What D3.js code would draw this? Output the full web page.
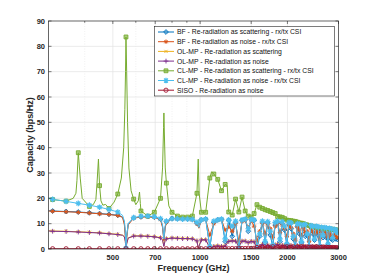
<!DOCTYPE html>
<html><head><meta charset="utf-8">
<script src="https://cdn.jsdelivr.net/npm/d3@7"></script>
<style>body{margin:0;background:#fff}svg{display:block}</style>
</head><body><svg id="c" width="374" height="280"></svg>
<script>
// ---------- DATA ----------
const freq = [310,345,380,415,450,485,520,555,590,625,660,695,730,765,800,835,870,905,940,975,1010,1045,1080,1115,1150,1185,1220,1255,1290,1325,1360,1395,1430,1465,1500,1535,1570,1605,1640,1675,1710,1745,1780,1815,1850,1885,1920,1955,1990,2025,2060,2095,2130,2165,2200,2235,2270,2305,2340,2375,2410,2445,2480,2515,2550,2585,2620,2655,2690,2725,2760,2795,2830,2865,2900,2935,2970];

const bfScat = [15.0,14.8,14.6,14.3,14.0,13.7,13.3,0.3,12.3,12.7,
 12.8,12.6,11.8,10.8,12.1,12.0,11.9,11.8,11.7,10.2,
 11.6,11.8,0.8,10.5,11.6,11.7,3.0,11.3,5.0,10.5,
 0.4,11.3,11.6,7.0,11.5,11.2,0.3,5.0,10.5,2.5,
 10.2,5.5,1.0,9.5,10.5,3.0,10.0,7.5,1.5,9.8,
 8.0,4.0,0.4,9.0,6.0,2.5,8.8,5.0,5.5,0.4,
 8.5,6.0,3.5,8.0,5.5,0.8,7.5,4.5,7.0,4.5,
 1.5,6.5,4.0,3.5,5.5,4.0,3.8];
const bfScatExF = [300,540,548,552,558,565,742,750,757,990,3000];
const bfScatExV = [15.1,12.6,10.5,6,5,10,9,3.5,8.5,8.5,3.6];

const bfNoise = [14.9,14.7,14.5,14.2,13.9,13.6,13.2,0.2,12.2,12.6,
 12.7,12.5,11.6,10.5,12.0,11.9,11.8,11.7,11.6,10.0,
 11.5,11.6,5.5,10.0,11.4,11.5,7.5,8.7,7.0,10.0,
 3.0,11.0,11.3,8.5,11.2,9.0,3.0,7.0,10.0,6.0,
 9.5,8.0,4.5,9.0,10.0,6.5,9.5,8.0,5.0,9.2,
 8.5,6.0,3.5,8.5,7.5,5.5,8.0,6.5,7.0,3.0,
 8.0,7.0,6.0,7.5,6.5,4.0,7.0,6.0,6.5,5.5,
 4.5,6.0,5.0,5.0,5.5,5.0,4.5];
const bfNoiseExF = [300,540,548,552,558,565,742,750,757,990,3000];
const bfNoiseExV = [15.0,12.5,9.5,5,4,9.5,8.5,3.2,8,8.2,4.0];

const olScat = [7.1,7.0,6.8,6.6,6.4,6.1,5.8,0.2,5.2,5.2,
 5.1,4.9,4.5,4.1,4.4,4.3,4.2,4.2,4.1,3.3,
 3.7,3.7,0.6,1.1,1.3,1.1,1.3,3.1,3.3,3.2,
 1.1,3.2,3.2,2.6,3.1,2.9,0.4,1.1,1.9,0.6,
 1.6,1.1,0.4,1.7,1.9,0.6,1.6,1.3,0.4,1.6,
 1.4,0.7,0.3,1.4,1.1,0.5,1.3,1.1,0.9,0.3,
 1.2,1.0,0.6,1.1,1.0,0.3,1.0,0.7,0.9,0.8,
 0.4,0.8,0.7,0.6,0.7,0.6,0.6];
const olScatExF = [300,540,548,552,558,565,742,750,757,985,3000];
const olScatExV = [7.2,5.5,4.9,3.1,2.1,4.4,3.6,1.1,3.4,0.4,0.6];

const olNoise = [7.0,6.9,6.7,6.5,6.3,6.0,5.7,0.1,5.1,5.1,
 5.0,4.8,4.4,4.0,4.3,4.2,4.1,4.1,4.0,3.2,
 3.6,3.6,0.5,1.0,1.2,1.0,1.2,3.0,3.2,3.1,
 1.0,3.1,3.1,2.5,3.0,2.8,0.3,1.0,1.8,0.5,
 1.5,1.0,0.3,1.6,1.8,0.5,1.5,1.2,0.3,1.5,
 1.3,0.6,0.2,1.3,1.0,0.4,1.2,1.0,0.8,0.2,
 1.1,0.9,0.5,1.0,0.9,0.2,0.9,0.6,0.8,0.7,
 0.3,0.7,0.6,0.5,0.6,0.5,0.5];
const olNoiseExF = [300,540,548,552,558,565,742,750,757,985,3000];
const olNoiseExV = [7.1,5.4,4.8,3,2,4.3,3.5,1.0,3.3,0.3,0.5];

const clScat = [19.5,18.9,38.0,16.8,25.0,16.0,21.7,83.7,19.7,15.0,
 13.0,14.5,20.0,26.0,14.5,13.0,12.6,12.6,13.0,22.0,
 14.5,14.5,28.0,29.6,27.5,23.0,25.5,14.6,13.4,19.7,
 14.6,20.5,15.0,13.0,12.6,14.0,17.5,16.5,16.0,15.5,
 15.2,14.8,14.4,14.0,12.8,12.7,12.5,12.0,11.4,11.3,
 11.2,11.0,10.9,10.6,10.3,10.2,10.0,9.7,9.5,9.3,
 9.0,8.9,8.8,8.7,8.5,8.4,8.3,8.2,8.1,8.0,
 8.0,7.9,7.8,7.8,7.7,7.6,7.2];
const clScatExF = [300,365,373,376,386,392,428,437,441,446,455,462,472,505,535,545,550,553,558,562,568,578,600,612,618,622,742,748,750,753,758,780,985,992,1095,1240,3000];
const clScatExV = [20.0,20.0,22,27,28,20,17.5,19.5,26,35.5,19,17.3,17.6,18.5,28,40,55,70,70,50,32,23,17.5,19,22.5,18,32,48,53.7,45,32,17,35.5,22,30.5,25,5.5];

const clNoise = [19.6,18.8,18.0,17.3,16.5,15.6,14.6,0.3,12.4,12.9,
 13.0,12.8,12.0,11.0,12.0,11.9,11.8,11.8,11.7,10.5,
 11.5,11.8,1.0,11.0,11.5,11.8,4.0,11.5,9.0,11.0,
 0.5,11.5,11.8,8.0,11.7,11.5,0.5,6.0,11.0,3.0,
 10.8,7.0,1.5,10.5,11.0,4.0,10.8,9.0,2.0,10.5,
 10.3,5.0,0.5,10.0,9.8,3.0,9.6,9.7,6.0,0.5,
 9.3,9.0,4.0,9.0,8.8,1.0,8.6,5.5,8.5,8.3,
 2.0,8.2,8.0,4.5,7.8,7.6,6.5];
const clNoiseExF = [300,540,548,552,558,565,742,750,757,990,3000];
const clNoiseExV = [20.2,13.3,11,7,5,10,9.5,4.0,9,8.5,6.0];

const siso = [0.1,0.1,0.1,0.1,0.1,0.1,0.1,0.1,0.1,0.1,
 0.1,0.1,0.1,0.1,0.1,0.1,0.1,0.1,0.1,0.1,
 0.1,0.1,0.2,0.1,0.1,0.1,0.2,0.1,0.2,0.1,
 0.3,0.2,0.2,0.3,0.2,0.3,0.6,0.3,0.7,0.4,
 0.8,0.4,0.9,0.3,0.6,0.8,0.4,0.7,0.9,0.5,
 0.6,0.9,0.4,0.8,0.5,0.9,0.6,0.4,0.8,0.7,
 0.5,0.8,0.6,0.9,0.4,0.7,0.6,0.8,0.5,0.7,
 0.6,0.6,0.5,0.6,0.5,0.5,0.5];
const sisoExF = [300,3000];
const sisoExV = [0.1,0.5];

const seriesNames = [
 "BF - Re-radiation as scattering - rx/tx CSI",
 "BF - Re-radiation as noise - rx/tx CSI",
 "OL-MP - Re-radiation as scattering",
 "OL-MP - Re-radiation as noise",
 "CL-MP - Re-radiation as scattering - rx/tx CSI",
 "CL-MP - Re-radiation as noise - rx/tx CSI",
 "SISO - Re-radiation as noise"];
const xTicks = [500,700,1000,1500,2000,3000];
const xMinor = [400,600,800,900];
const yTicks = [0,10,20,30,40,50,60,70,80,90];

// ---------- STYLE ----------
const colors = ["#0072BD","#D95319","#EDB120","#7E2F8E","#77AC30","#4DBEEE","#A2142F"];
const markers = ["d","*","x","+","s","star","o"];
const seriesVals = [bfScat,bfNoise,olScat,olNoise,clScat,clNoise,siso];
const seriesExF = [bfScatExF,bfNoiseExF,olScatExF,olNoiseExF,clScatExF,clNoiseExF,sisoExF];
const seriesExV = [bfScatExV,bfNoiseExV,olScatExV,olNoiseExV,clScatExV,clNoiseExV,sisoExV];

const L=48.5, R=338.5, T=21, B=249;
const FONT = "'Liberation Sans', Arial, Helvetica, sans-serif";
const svg = d3.select("#c");
const x = d3.scaleLog().domain([300,3000]).range([L,R]);
const y = d3.scaleLinear().domain([0,90]).range([B,T]);

svg.append("defs").append("clipPath").attr("id","clip")
  .append("rect").attr("x",L).attr("y",T).attr("width",R-L).attr("height",B-T);

const gGrid = svg.append("g");
gGrid.selectAll(".hg").data(yTicks.slice(1,-1)).join("line")
  .attr("x1",L).attr("x2",R).attr("y1",d=>y(d)).attr("y2",d=>y(d))
  .attr("stroke","#e3e3e3").attr("stroke-width",0.7);
gGrid.selectAll(".vg").data(xTicks.slice(0,-1)).join("line")
  .attr("y1",T).attr("y2",B).attr("x1",d=>x(d)).attr("x2",d=>x(d))
  .attr("stroke","#e3e3e3").attr("stroke-width",0.7);
gGrid.selectAll(".vm").data(xMinor).join("line")
  .attr("y1",T).attr("y2",B).attr("x1",d=>x(d)).attr("x2",d=>x(d))
  .attr("stroke","#e6e6e6").attr("stroke-width",0.6).attr("stroke-dasharray","1,1.5");

function markerPath(t, r){
  switch(t){
    case "d": return `M0,${-r}L${r},0L0,${r}L${-r},0Z`;
    case "s": return `M${-r*0.8},${-r*0.8}h${1.6*r}v${1.6*r}h${-1.6*r}Z`;
    case "o": return d3.path? `M${r},0A${r},${r} 0 1,1 ${-r},0A${r},${r} 0 1,1 ${r},0Z` : "";
    case "x": return `M${-r*0.7},${-r*0.7}L${r*0.7},${r*0.7}M${-r*0.7},${r*0.7}L${r*0.7},${-r*0.7}`;
    case "+": return `M${-r},0L${r},0M0,${-r}L0,${r}`;
    case "*": case "star": {
      const a=r*0.7;
      return `M${-r},0L${r},0M0,${-r}L0,${r}M${-a},${-a}L${a},${a}M${-a},${a}L${a},${-a}`;
    }
  }
}
const mSize = {d:2.4,"*":2.2,x:2.2,"+":2.4,s:2.4,star:2.8,o:2.1};
const mWidth = {d:0.9,"*":1.0,x:0.9,"+":0.9,s:0.9,star:1.2,o:0.9};

const gPlot = svg.append("g").attr("clip-path","url(#clip)");
const line = d3.line().x(d=>x(d[0])).y(d=>y(d[1]));
seriesVals.forEach((vals,i)=>{
  const pts = freq.map((f,k)=>[f,vals[k]])
    .concat(seriesExF[i].map((f,k)=>[f,seriesExV[i][k]]))
    .sort((a,b)=>a[0]-b[0]);
  gPlot.append("path").attr("d",line(pts)).attr("fill","none")
    .attr("stroke",colors[i]).attr("stroke-width",1.0).attr("stroke-linejoin","round");
  const t = markers[i];
  gPlot.append("g").selectAll("path").data(freq.map((f,k)=>[f,vals[k]])).join("path")
    .attr("transform",d=>`translate(${x(d[0])},${y(d[1])})`)
    .attr("d",markerPath(t,mSize[t]))
    .attr("fill", (t==="d"||t==="s") ? colors[i] : "none")
    .attr("fill-opacity", t==="s"?0.6:0.35)
    .attr("stroke",colors[i]).attr("stroke-width",mWidth[t]);
});

// axes box & ticks
const axc = "#262626";
svg.append("rect").attr("x",L).attr("y",T).attr("width",R-L).attr("height",B-T)
  .attr("fill","none").attr("stroke",axc).attr("stroke-width",0.7);
const tl = 3;
const gT = svg.append("g").attr("stroke",axc).attr("stroke-width",0.6);
yTicks.forEach(v=>{
  gT.append("line").attr("x1",L).attr("x2",L+tl).attr("y1",y(v)).attr("y2",y(v));
  gT.append("line").attr("x1",R).attr("x2",R-tl).attr("y1",y(v)).attr("y2",y(v));
});
xTicks.forEach(v=>{
  gT.append("line").attr("x1",x(v)).attr("x2",x(v)).attr("y1",B).attr("y2",B-tl);
  gT.append("line").attr("x1",x(v)).attr("x2",x(v)).attr("y1",T).attr("y2",T+tl);
});
xMinor.forEach(v=>{
  gT.append("line").attr("x1",x(v)).attr("x2",x(v)).attr("y1",B).attr("y2",B-1.8);
  gT.append("line").attr("x1",x(v)).attr("x2",x(v)).attr("y1",T).attr("y2",T+1.8);
});

const gL = svg.append("g").attr("font-family",FONT).attr("fill",axc);
yTicks.forEach(v=>{
  gL.append("text").attr("x",L-3.5).attr("y",y(v)+2.7).attr("text-anchor","end")
    .attr("font-size",7.5).attr("font-weight","bold").text(v);
});
xTicks.forEach(v=>{
  gL.append("text").attr("x",x(v)).attr("y",B+11).attr("text-anchor","middle")
    .attr("font-size",7.5).attr("font-weight","bold").text(v);
});
gL.append("text").attr("x",(L+R)/2).attr("y",271).attr("text-anchor","middle")
  .attr("font-size",9).attr("font-weight","bold").text("Frequency (GHz)");
gL.append("text").attr("transform",`translate(33,${(T+B)/2}) rotate(-90)`)
  .attr("text-anchor","middle").attr("font-size",9).attr("font-weight","bold")
  .text("Capacity (bps/Hz)");

// legend
const lg = svg.append("g");
lg.append("rect").attr("x",154.5).attr("y",26.5).attr("width",180).attr("height",69.5)
  .attr("fill","#fff").attr("stroke",axc).attr("stroke-width",0.6);
seriesNames.forEach((nm,i)=>{
  const yy = 32 + i*9.7;
  lg.append("line").attr("x1",158).attr("x2",174).attr("y1",yy).attr("y2",yy)
    .attr("stroke",colors[i]).attr("stroke-width",1.0);
  const t = markers[i];
  lg.append("path").attr("transform",`translate(166,${yy})`).attr("d",markerPath(t,mSize[t]))
    .attr("fill",(t==="d"||t==="s")?colors[i]:"none").attr("fill-opacity",t==="s"?0.6:0.35)
    .attr("stroke",colors[i]).attr("stroke-width",mWidth[t]);
  lg.append("text").attr("x",177).attr("y",yy+2.4).attr("font-family",FONT)
    .attr("font-size",6.8).attr("fill","#111").text(nm);
});
</script>
</body></html>
